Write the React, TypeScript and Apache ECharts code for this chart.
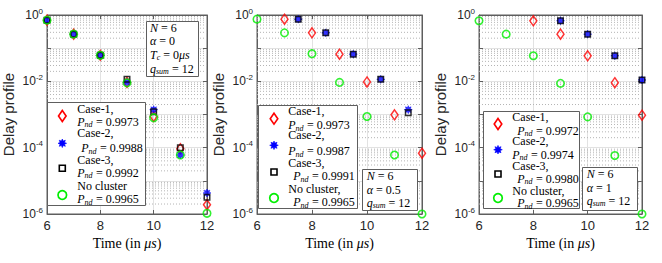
import React, { useEffect, useRef } from 'react';
import * as echarts from 'echarts';

// ---------- data ----------
const timesAll = [6, 7, 8, 9, 10, 11, 12];

// Panel 1: alpha = 0
const p1Case1X = [6, 7, 8, 9, 10, 11, 12];
const p1Case1Y = [0.7, 0.265, 0.061, 0.0093, 0.00087, 9.3e-5, 1.9e-6];
const p1Case2X = [6, 7, 8, 9, 10, 11, 12];
const p1Case2Y = [0.7, 0.265, 0.061, 0.0094, 0.0014, 6e-5, 4.3e-6];
const p1Case3X = [6, 7, 8, 9, 10, 11, 12];
const p1Case3Y = [0.7, 0.265, 0.061, 0.0115, 0.0012, 1.0e-4, 3.2e-6];
const p1NoClY = [0.7, 0.265, 0.061, 0.009, 0.0008, 6e-5, 1.05e-6];

// Panel 2: alpha = 0.5
const p2Case1X = [7, 8, 9, 10, 11, 12];
const p2Case1Y = [0.75, 0.29, 0.066, 0.0096, 0.00098, 6.8e-5];
const p2Case2X = [7.5, 8.5, 9.5, 10.5, 11.5];
const p2Case2Y = [0.75, 0.29, 0.066, 0.0115, 0.0014];
const p2Case3X = [7.5, 8.5, 9.5, 10.5, 11.5];
const p2Case3Y = [0.75, 0.29, 0.066, 0.0115, 0.00112];
const p2NoClY = [0.75, 0.29, 0.068, 0.0093, 0.00087, 6e-5, 1e-6];

// Panel 3: alpha = 1
const p3Case1X = [8, 9, 10, 11, 12];
const p3Case1Y = [0.67, 0.265, 0.059, 0.0091, 0.00095];
const p3Case2X = [9, 10, 11, 12];
const p3Case2Y = [0.67, 0.265, 0.059, 0.011];
const p3Case3X = [9, 10, 11, 12];
const p3Case3Y = [0.67, 0.265, 0.059, 0.011];
const p3NoClY = [0.67, 0.265, 0.059, 0.0087, 0.00085, 5.8e-5, 1e-6];

const p1Pnd = ['0.9973', '0.9988', '0.9992', '0.9965'];
const p2Pnd = ['0.9973', '0.9987', '0.9991', '0.9965'];
const p3Pnd = ['0.9972', '0.9974', '0.9980', '0.9965'];
const p1Names = ['Case-1,', 'Case-2,', 'Case-3,', 'No cluster'];
const p2Names = ['Case-1,', 'Case-2,', 'Case-3,', 'No cluster,'];
const p3Names = ['Case-1,', 'Case-2,', 'Case-3,', 'No cluster,'];

const p1Notes = ['{i|N} {r|= 6}', '{i|α} {r|= 0}', '{i|T}{s|c} {r|= 0}{i|μs}', '{i|q}{s|sum} {r|= 12}'];
const p2Notes = ['{i|N} {r|= 6}', '{i|α} {r|= 0.5}', '{i|q}{s|sum} {r|= 12}'];
const p3Notes = ['{i|N} {r|= 6}', '{i|α} {r|= 1}', '{i|q}{s|sum} {r|= 12}'];

const xTicks = { min: 6, max: 12, interval: 2 };

// ---------- styles / layout ----------
const SERIF = 'Liberation Serif, Times New Roman, serif';
const SANS = 'Liberation Sans, Arial, Helvetica, sans-serif';
const AXIS_COLOR = '#5e5e5e';
const RED = '#ff0000';
const BLUE = '#0000ff';
const GREEN = '#00ee00';

const STAR_PATH =
  'path://M10,0L12.1,4.92L17.07,2.93L15.08,7.9L20,10L15.08,12.1L17.07,17.07L12.1,15.08L10,20L7.9,15.08L2.93,17.07L4.92,12.1L0,10L4.92,7.9L2.93,2.93L7.9,4.92Z';

const GRIDS = [
  { left: 44, top: 15, width: 163, height: 199 },
  { left: 257, top: 15, width: 165, height: 199 },
  { left: 479, top: 15, width: 163, height: 199 },
];

const LEGENDS = [
  {
    box: [47, 102, 98, 103], markerX: 62.3, textX: 77.3,
    line1: [109.3, 133.3, 160, 186], line2: [121.7, 148.3, 172.7, 199.3],
    marker: [116, 143.3, 168.3, 195], indent: [0, 4, 0, 0],
  },
  {
    box: [258, 105, 99, 103], markerX: 274, textX: 288.3,
    line1: [111.3, 135.3, 163, 189.3], line2: [125.3, 151.3, 176, 202],
    marker: [118.7, 145.3, 172, 198], indent: [0, 0, 5, 5],
  },
  {
    box: [483, 111, 96, 97], markerX: 498, textX: 512.3,
    line1: [117.3, 140.7, 166.3, 191.3], line2: [130.7, 154.7, 178.7, 203],
    marker: [124, 149.7, 174, 198], indent: [5, 0, 5, 5],
  },
];

const NOTES = [
  { box: [146, 21, 52, 55], textX: 150, lines: [27.5, 41.3, 55.1, 68.9] },
  { box: [362, 169, 55, 41], textX: 366.7, lines: [176, 189.5, 202.5] },
  { box: [582, 167, 55, 43], textX: 586.7, lines: [174, 187.5, 201] },
];

const STAR_PTS = [
  [0, -1], [0.21, -0.508], [0.707, -0.707], [0.508, -0.21], [1, 0], [0.508, 0.21],
  [0.707, 0.707], [0.21, 0.508], [0, 1], [-0.21, 0.508], [-0.707, 0.707], [-0.508, 0.21],
  [-1, 0], [-0.508, -0.21], [-0.707, -0.707], [-0.21, -0.508],
];

const KIND_STYLE: any = {
  c1: { symbol: 'diamond', symbolSize: [7, 10], itemStyle: { color: 'rgba(0,0,0,0)', borderColor: RED, borderWidth: 1.5 } },
  c2: { symbol: STAR_PATH, symbolSize: 8, itemStyle: { color: BLUE, borderColor: BLUE, borderWidth: 0.6 } },
  c3: { symbol: 'rect', symbolSize: 5.5, itemStyle: { color: 'rgba(0,0,0,0)', borderColor: '#000', borderWidth: 1.5 } },
  nc: { symbol: 'circle', symbolSize: 7.5, itemStyle: { color: 'rgba(0,0,0,0)', borderColor: GREEN, borderWidth: 1.6 } },
};

const RICH_SERIF = {
  i: { fontFamily: SERIF, fontStyle: 'italic', fontSize: 12, fill: '#000', lineHeight: 13 },
  r: { fontFamily: SERIF, fontStyle: 'normal', fontSize: 12, fill: '#000', lineHeight: 13 },
  s: { fontFamily: SERIF, fontStyle: 'italic', fontSize: 8, verticalAlign: 'bottom', fill: '#000', lineHeight: 8 },
};

function zip(xs: number[], ys: number[]) {
  return xs.map((x, i) => [x, ys[i]]);
}

function txt(x: number, y: number, text: string, tok: any = {}) {
  return {
    type: 'text', z: 101, silent: true, x, y,
    style: {
      text: `{t|${text}}`, fill: '#000', fontFamily: SERIF, fontSize: 12,
      verticalAlign: 'middle', align: 'left',
      rich: { t: { fontFamily: SERIF, fontSize: 12, fontStyle: 'normal', fill: '#000', lineHeight: 10, ...tok } },
    },
  };
}

function buildOption() {
  const xAxis: any[] = [];
  const yAxis: any[] = [];
  const grid: any[] = [];
  const series: any[] = [];
  const graphic: any[] = [];

  const minorVals: number[] = [];
  for (let e = -6; e <= -1; e++) for (let m = 2; m <= 9; m++) minorVals.push(m * Math.pow(10, e));
  const minorLineData: any[] = [];
  minorVals.forEach((v) => {
    minorLineData.push([6, v], [12, v], [12, '-']);
  });

  GRIDS.forEach((g, gi) => {
    grid.push({ ...g, show: true, borderColor: AXIS_COLOR, borderWidth: 1, backgroundColor: '#fff' });
    xAxis.push({
      type: 'value', gridIndex: gi, position: 'bottom', ...xTicks,
      axisLine: { show: true, onZero: false, lineStyle: { color: AXIS_COLOR } },
      axisTick: { show: true, inside: true, length: 4, lineStyle: { color: AXIS_COLOR } },
      axisLabel: { color: '#262626', fontFamily: SANS, fontSize: 13, margin: 5 },
      splitLine: { show: true, lineStyle: { color: '#e2e2e2', width: 1 } },
      name: '{r|Time (in }{i|μs}{r|)}', nameLocation: 'middle', nameGap: 17,
      nameTextStyle: {
        fontFamily: SERIF, fontSize: 14, color: '#000',
        rich: {
          r: { fontFamily: SERIF, fontStyle: 'normal', fontSize: 14, color: '#000' },
          i: { fontFamily: SERIF, fontStyle: 'italic', fontSize: 14, color: '#000' },
        },
      },
    });
    xAxis.push({
      type: 'value', gridIndex: gi, position: 'top', ...xTicks,
      axisLine: { show: true, onZero: false, lineStyle: { color: AXIS_COLOR } },
      axisTick: { show: true, inside: true, length: 4, lineStyle: { color: AXIS_COLOR } },
      axisLabel: { show: false }, splitLine: { show: false },
    });
    yAxis.push({
      type: 'log', logBase: 10, gridIndex: gi, position: 'left', min: 1e-6, max: 1, interval: 1,
      axisLine: { show: true, onZero: false, lineStyle: { color: AXIS_COLOR } },
      axisTick: { show: true, inside: true, length: 4, lineStyle: { color: AXIS_COLOR } },
      axisLabel: {
        color: '#262626', fontFamily: SANS, fontSize: 12, margin: 4, lineHeight: 16,
        formatter: (v: number) => {
          const e = Math.round(Math.log10(v));
          return e % 2 === 0 ? `10{sup|${e}}` : '';
        },
        rich: { sup: { fontFamily: SANS, fontSize: 8, color: '#262626', verticalAlign: 'top', lineHeight: 9 } },
      },
      splitLine: { show: true, lineStyle: { color: '#e2e2e2', width: 1 } },
      name: 'Delay profile', nameLocation: 'middle', nameGap: 31,
      nameTextStyle: { fontFamily: SANS, fontSize: 15, color: '#262626' },
    });
    yAxis.push({
      type: 'log', logBase: 10, gridIndex: gi, position: 'right', min: 1e-6, max: 1, interval: 1,
      axisLine: { show: true, onZero: false, lineStyle: { color: AXIS_COLOR } },
      axisTick: { show: true, inside: true, length: 4, lineStyle: { color: AXIS_COLOR } },
      axisLabel: { show: false }, splitLine: { show: false },
    });
    series.push({
      type: 'line', name: 'minor grid ' + gi, xAxisIndex: 2 * gi, yAxisIndex: 2 * gi,
      data: minorLineData, silent: true, showSymbol: false, symbol: 'none', connectNulls: false,
      lineStyle: { type: [1, 2], color: '#b4b4b4', width: 1 },
      emphasis: { disabled: true }, z: 1,
    });
  });

  const panels = [
    [['c1', p1Case1X, p1Case1Y], ['c2', p1Case2X, p1Case2Y], ['c3', p1Case3X, p1Case3Y], ['nc', timesAll, p1NoClY]],
    [['c1', p2Case1X, p2Case1Y], ['c2', p2Case2X, p2Case2Y], ['c3', p2Case3X, p2Case3Y], ['nc', timesAll, p2NoClY]],
    [['c1', p3Case1X, p3Case1Y], ['c2', p3Case2X, p3Case2Y], ['c3', p3Case3X, p3Case3Y], ['nc', timesAll, p3NoClY]],
  ];
  const names = [p1Names, p2Names, p3Names];
  const pnds = [p1Pnd, p2Pnd, p3Pnd];
  const notes = [p1Notes, p2Notes, p3Notes];

  panels.forEach((list, gi) => {
    list.forEach(([kind, xs, ys]: any, k: number) => {
      series.push({
        type: 'scatter', name: `${names[gi][k]} P=${pnds[gi][k]} (${gi + 1})`,
        xAxisIndex: 2 * gi, yAxisIndex: 2 * gi, clip: false, silent: true,
        data: zip(xs, ys), ...KIND_STYLE[kind],
      });
    });

    // legend box
    const L = LEGENDS[gi];
    graphic.push({
      type: 'rect', z: 100, silent: true,
      shape: { x: L.box[0] + 0.5, y: L.box[1] + 0.5, width: L.box[2], height: L.box[3] },
      style: { fill: '#fff', stroke: AXIS_COLOR, lineWidth: 1 },
    });
    const kinds = ['c1', 'c2', 'c3', 'nc'];
    kinds.forEach((kind, k) => {
      const cx = L.markerX;
      const cy = L.marker[k];
      if (kind === 'c1') {
        graphic.push({
          type: 'polygon', z: 101, silent: true,
          shape: { points: [[cx, cy - 5.5], [cx + 3.8, cy], [cx, cy + 5.5], [cx - 3.8, cy]] },
          style: { fill: 'none', stroke: RED, lineWidth: 1.6 },
        });
      } else if (kind === 'c2') {
        graphic.push({
          type: 'polygon', z: 101, silent: true,
          shape: { points: STAR_PTS.map(([a, b]) => [cx + a * 4.3, cy + b * 4.3]) },
          style: { fill: BLUE, stroke: BLUE, lineWidth: 0.6 },
        });
      } else if (kind === 'c3') {
        graphic.push({
          type: 'rect', z: 101, silent: true,
          shape: { x: cx - 3, y: cy - 3, width: 6, height: 6 },
          style: { fill: 'none', stroke: '#000', lineWidth: 1.6 },
        });
      } else {
        graphic.push({
          type: 'circle', z: 101, silent: true,
          shape: { cx, cy, r: 4.3 },
          style: { fill: 'none', stroke: GREEN, lineWidth: 1.7 },
        });
      }
      graphic.push(txt(L.textX, L.line1[k], names[gi][k]));
      const px = L.textX + L.indent[k];
      const py = L.line2[k];
      graphic.push(txt(px, py, 'P', { fontStyle: 'italic' }));
      graphic.push(txt(px + 7.3, py + 3, 'nd', { fontStyle: 'italic', fontSize: 8, lineHeight: 7 }));
      graphic.push(txt(px + 18.6, py, `= ${pnds[gi][k]}`));
    });

    // parameter note box
    const N = NOTES[gi];
    graphic.push({
      type: 'rect', z: 100, silent: true,
      shape: { x: N.box[0] + 0.5, y: N.box[1] + 0.5, width: N.box[2], height: N.box[3] },
      style: { fill: '#fff', stroke: AXIS_COLOR, lineWidth: 1 },
    });
    notes[gi].forEach((t, li) => {
      graphic.push({
        type: 'text', z: 101, silent: true, x: N.textX, y: N.lines[li],
        style: {
          text: t, fill: '#000', fontFamily: SERIF, fontSize: 12, verticalAlign: 'middle', align: 'left',
          lineHeight: 13, rich: RICH_SERIF,
        },
      });
    });
  });

  return {
    animation: false,
    backgroundColor: '#fff',
    grid, xAxis, yAxis, series, graphic,
  };
}

export default function App() {
  const ref = useRef<HTMLDivElement>(null);
  useEffect(() => {
    if (!ref.current) return;
    const chart = echarts.init(ref.current, undefined, { renderer: 'svg' });
    chart.setOption(buildOption() as any);
    return () => chart.dispose();
  }, []);
  return (
    <div
      ref={ref}
      style={{ position: 'absolute', left: 0, top: 0, width: 662, height: 263, background: '#fff' }}
    />
  );
}
